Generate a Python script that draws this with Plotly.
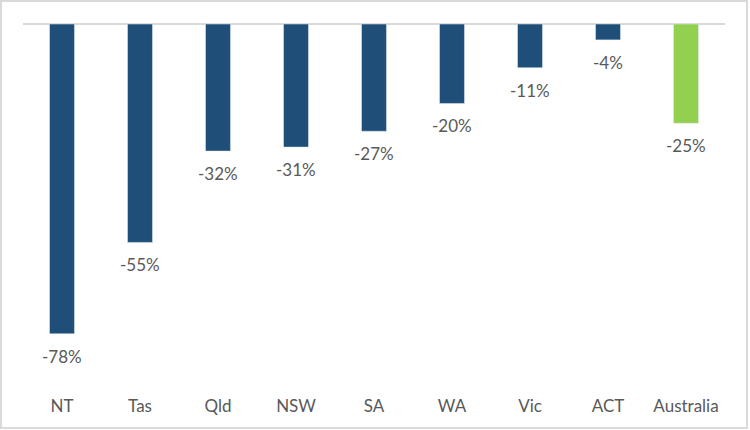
import plotly.graph_objects as go

categories = ["NT", "Tas", "Qld", "NSW", "SA", "WA", "Vic", "ACT", "Australia"]
values = [-0.78, -0.55, -0.32, -0.31, -0.27, -0.20, -0.11, -0.04, -0.25]
labels = ["-78%", "-55%", "-32%", "-31%", "-27%", "-20%", "-11%", "-4%", "-25%"]

state_color = "#1F4E79"
total_color = "#92D050"
colors = [total_color if c == "Australia" else state_color for c in categories]

FONT = "Lato, 'Open Sans', sans-serif"
TXT = "#595959"

fig = go.Figure()
fig.add_trace(go.Bar(x=categories, y=values, marker_color=colors, width=0.32,
                     hoverinfo="skip"))

annotations = []
for c, v, t in zip(categories, values, labels):
    annotations.append(dict(x=c, y=v, xref="x", yref="y", text=t, showarrow=False,
                            yanchor="top", yshift=-10,
                            font=dict(family=FONT, size=17, color=TXT)))

fig.update_layout(
    width=750, height=430,
    margin=dict(l=23, r=25, t=20, b=45),
    paper_bgcolor="white", plot_bgcolor="white",
    showlegend=False,
    bargap=0.68,
    annotations=annotations,
    xaxis=dict(showgrid=False, showline=False, ticks="", ticklabelstandoff=9,
               tickfont=dict(family=FONT, size=17, color=TXT), fixedrange=True),
    yaxis=dict(range=[-0.909, 0.0101], showgrid=False, showticklabels=False, zeroline=True,
               zerolinecolor="#D9D9D9", zerolinewidth=2, fixedrange=True),
    shapes=[dict(type="rect", xref="paper", yref="paper",
                 x0=-22/702, x1=724/702, y0=-43/365, y1=1+19/365,
                 line=dict(color="#D9D9D9", width=2), fillcolor="rgba(0,0,0,0)", layer="above")],
)

fig.write_html("out.html", config={"displayModeBar": False},
               post_script="document.body.style.margin='0';document.body.style.overflow='hidden';")
